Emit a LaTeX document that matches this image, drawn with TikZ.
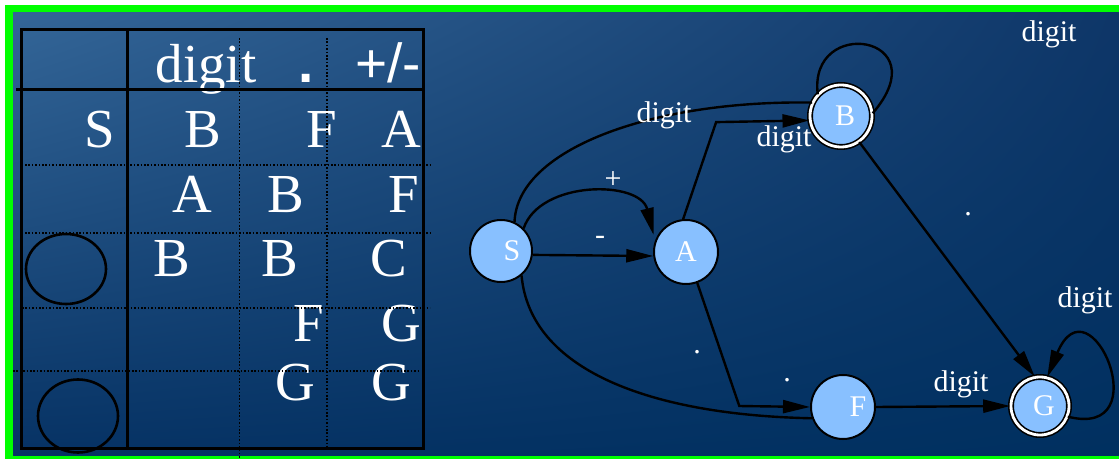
\documentclass[tikz,border=0pt]{standalone}
\usepackage{fontspec}
\setmainfont{Liberation Serif}
\setsansfont{Liberation Sans}
\usetikzlibrary{arrows.meta, shapes.geometric, shadings}
\definecolor{frame}{RGB}{0,255,0}
\definecolor{bgul}{RGB}{52,102,152}
\definecolor{bgur}{RGB}{14,54,104}
\definecolor{bgll}{RGB}{6,50,100}
\definecolor{bglr}{RGB}{0,48,96}
\definecolor{stfill}{RGB}{136,192,255}

\begin{document}
\begin{tikzpicture}[
    x=0.5pt, y=-0.5pt,
    >={Triangle[length=13.5pt, width=6.5pt]},
    state/.style ={draw, circle, line width=1pt, fill=stfill, text=white,
                   minimum size=31pt, inner sep=0pt, font=\fontsize{15}{15}\selectfont},
    accept/.style={state, double=white, double distance=1.4pt, line width=0.8pt},
    lbl/.style   ={text=white, inner sep=0pt, anchor=base, font=\fontsize{15}{15}\selectfont},
    cell/.style  ={text=white, inner sep=0pt, anchor=base, font=\fontsize{27.5}{27.5}\selectfont},
    hole/.style  ={draw, ellipse, line width=1.3pt, inner sep=0pt, minimum width=40pt},
    flow/.style  ={->, line width=1.2pt},
    plain/.style ={line width=1.2pt},
    rule/.style  ={line width=1.5pt},
    grid/.style  ={dash pattern=on 0.8pt off 0.9pt, line width=0.7pt},
]
\useasboundingbox (0,0) rectangle (1119,459);
\fill[white] (0,0) rectangle (1119,459);
\fill[frame] (5,5) rectangle (1119,459);
\shade[upper left=bgul, upper right=bgur, lower left=bgll, lower right=bglr]
    (13,13) rectangle (1119,456);

% transition table
\node[cell] (hdig) at (206,83) {digit};
\node[cell] (hdot) at (306,83) {\sffamily\bfseries .};
\node[cell] (hpm)  at (388,83) {\sffamily +/-};
\foreach \x/\y/\t [count=\i] in {100/148/S, 203/148/B, 322/148/F, 401/148/A,
    192/213/A, 286/213/B, 404/213/F, 172/277/B, 280/277/B, 389/277/C,
    309/342/F, 401/342/G, 295/401/G, 391/401/G}
  \node[cell] (c\i) at (\x,\y) {\t};
\node[hole, minimum height=35pt]   (acc1) at (66,269) {};
\node[hole, minimum height=36.5pt] (acc2) at (78,416) {};
\draw[rule] (21,30) rectangle (423,449);
\draw[rule] (127,30) -- (127,449);
\draw[rule] (16,90) -- (423,90);
\draw[grid] (239.5,38) -- (239.5,458);
\draw[grid] (327,38) -- (327,449);
\draw[grid] (25,165) -- (430,165);
\draw[grid] (25,233) -- (432,233);
\draw[grid] (22,308) -- (430,308);
\draw[grid] (13,371) -- (419,371);

% automaton
\node[state] (S) at (501,251) {\hspace{11pt}S};
\node[state, minimum size=32pt] (A) at (686,252) {A};
\node[accept] (B) at (841,116) {\hspace{4pt}B};
\node[state, minimum size=32pt] (F) at (843,407) {\hspace{15pt}F};
\node[accept, minimum size=29pt] (G) at (1040,406) {\hspace{4pt}G};

\draw[flow] (S.353) -- (A.187);
\draw[flow, shorten >=3pt] (S.45) .. controls (540,180) and (640,180) .. (A.160);
\draw[plain] (S.65) .. controls (517,150) and (650,100) .. (B.155);
\draw[flow] (A.95) -- ++(33,-97) -- (B.188);
\draw[plain] (B.137) .. controls (808,15) and (940,35) .. (B.5);
\draw[flow] (B.305) -- (G.100);
\draw[flow] (A.290) -- ++(42,123) -- (F.west);
\draw[plain] (S.310) .. controls (530,370) and (650,415) .. (F.200);
\draw[flow] (F.east) -- (G.west);
\draw[flow] (G.339) .. controls (1160,440) and (1090,275) .. (G.76);

\node[lbl] (dS) at (664,123) {digit};
\node[lbl] (dA) at (784,147) {digit};
\node[lbl] (dB) at (1049,42) {digit};
\node[lbl] (dF) at (961,392) {digit};
\node[lbl] (dG) at (1085,308) {digit};
\node[lbl, anchor=center] (plus)  at (613,180) {+};
\node[lbl, anchor=center] (minus) at (600,240) {-};
\node[lbl] (pB) at (968,216) {.};
\node[lbl] (pA) at (697,354) {.};
\node[lbl] (pS) at (787,382) {.};
\end{tikzpicture}
\end{document}
